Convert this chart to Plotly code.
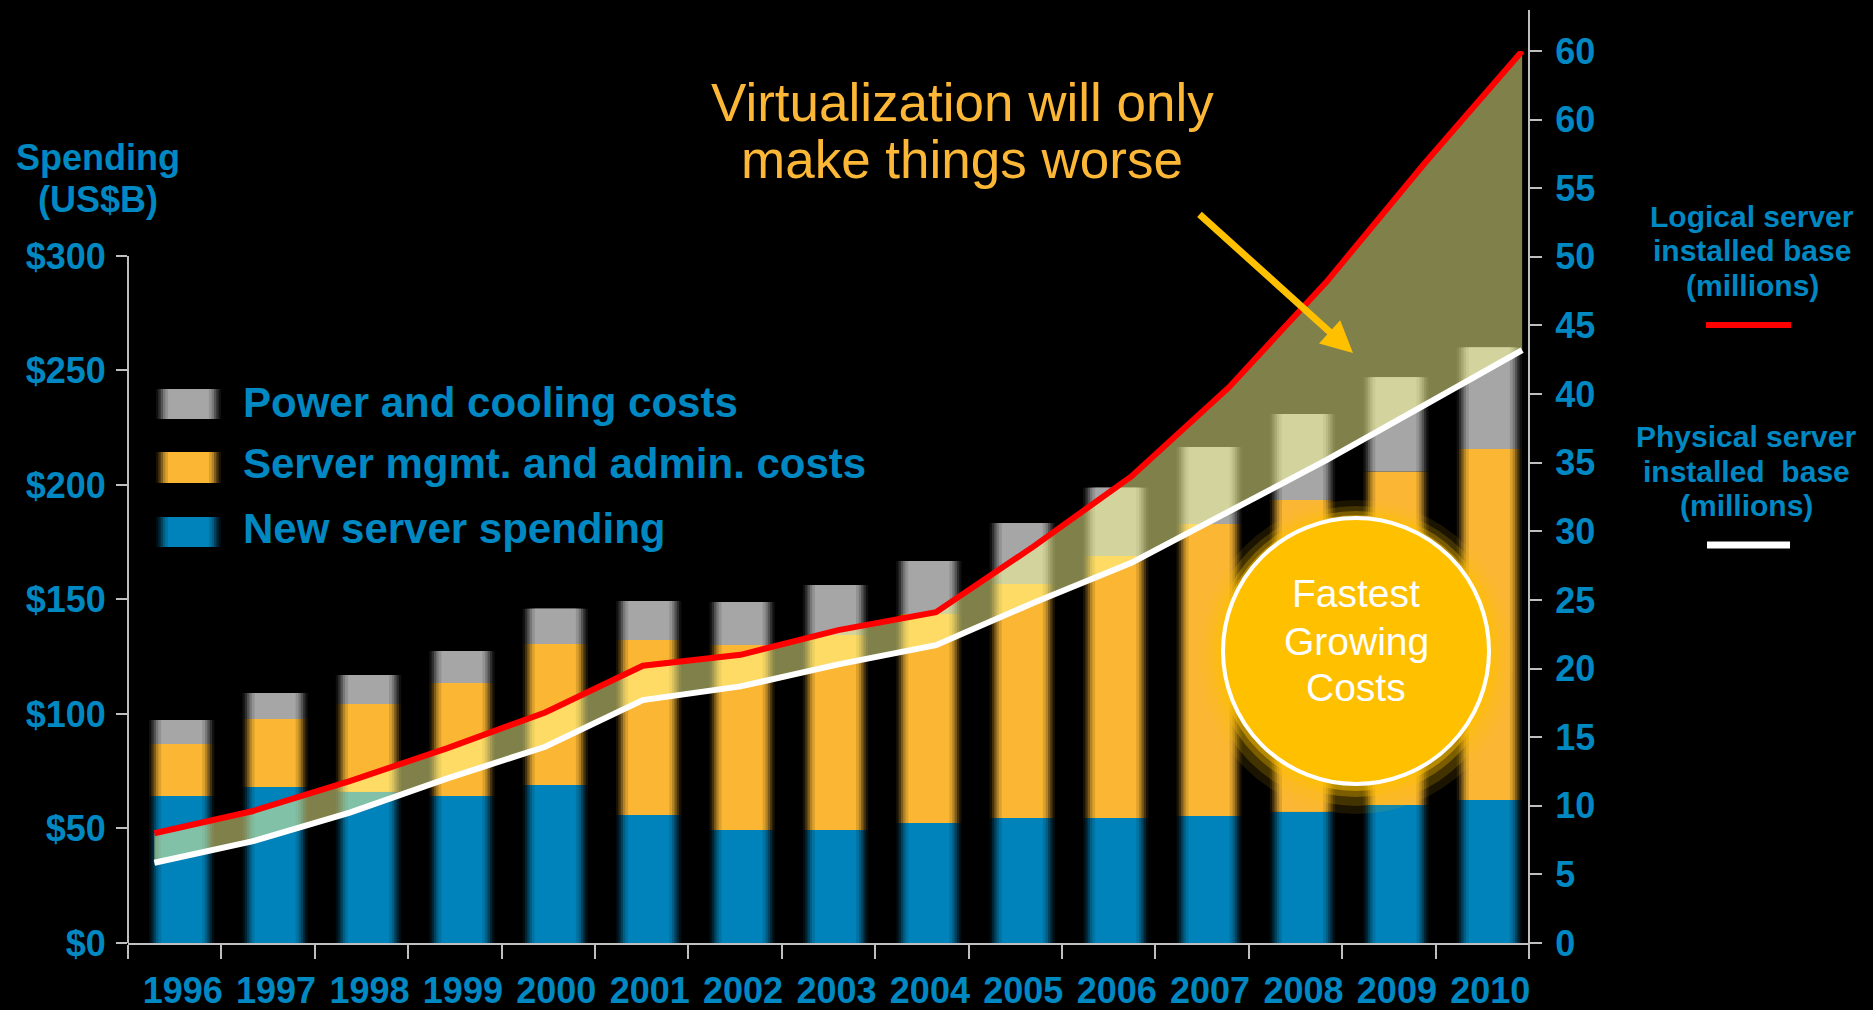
import plotly.graph_objects as go

# ---------------- data ----------------
years = [str(y) for y in range(1996, 2011)]
years_num = list(range(1996, 2011))
new_server = [64.2, 68.1, 66.0, 64.2, 69.0, 55.9, 49.3, 49.3, 52.4, 54.6, 54.6, 55.5, 57.3, 60.3, 62.4]
mgmt_admin = [22.7, 29.7, 38.4, 49.3, 61.6, 76.4, 80.8, 85.2, 91.3, 102.2, 114.4, 127.5, 136.1, 145.7, 153.3]
power_cooling = [10.5, 11.4, 12.6, 14.0, 15.3, 17.0, 18.8, 21.8, 23.1, 26.6, 29.8, 33.6, 37.6, 41.0, 44.3]
logical_base = [8.0, 9.6, 11.8, 14.2, 16.8, 20.2, 21.0, 22.8, 24.1, 28.9, 34.0, 40.5, 48.2, 56.8, 65.0]
physical_base = [5.85, 7.4, 9.5, 12.0, 14.3, 17.7, 18.7, 20.3, 21.7, 24.8, 27.7, 31.4, 35.2, 39.2, 43.2]
left_tickvals = [0, 50, 100, 150, 200, 250, 300]
left_ticktext = ["$0", "$50", "$100", "$150", "$200", "$250", "$300"]
right_tickvals = [0, 5, 10, 15, 20, 25, 30, 35, 40, 45, 50, 55, 60, 65]
right_ticktext = ["0", "5", "10", "15", "20", "25", "30", "35", "40", "45", "50", "55", "60", "60"]
legend_labels = ["Power and cooling costs", "Server mgmt. and admin. costs", "New server spending"]

# ---------------- style ----------------
BLUE_TXT = "#0088C2"
BLUE = (0, 131, 186)
ORANGE = (251, 183, 52)
GRAY = (166, 166, 166)
AXIS = "#BFBFBF"
FONT = "Liberation Sans, Arial, sans-serif"
W, H = 1873, 1010
PL, PR, PT, PB = 128, 1529, 51, 943  # plot area in pixels


def shade(rgb, f):
    return "rgb(%d,%d,%d)" % tuple(int(c * f) for c in rgb)


def fx(x):
    return (x - PL) / (PR - PL)


def fy(y):
    return (PB - y) / (PB - PT)


fig = go.Figure()

# stacked bars with a soft horizontal gradient (layered widths)
base_orange = new_server
base_gray = [a + b for a, b in zip(new_server, mgmt_admin)]
segments = [
    (new_server, [0] * len(years), BLUE),
    (mgmt_admin, base_orange, ORANGE),
    (power_cooling, base_gray, GRAY),
]
layers = [(0.70, 0.10), (0.65, 0.28), (0.60, 0.50), (0.55, 0.72), (0.50, 0.88), (0.44, 1.0)]
shift = 0.075
for vals, base, col in segments:
    for w, f in layers:
        fig.add_trace(go.Bar(
            x=years, y=vals, base=base, width=w, offset=-w / 2 + shift,
            marker=dict(color=shade(col, f), line=dict(width=0)),
            xaxis="x", yaxis="y", showlegend=False, hoverinfo="skip"))

# server installed base lines with band
fig.add_trace(go.Scatter(
    x=years_num, y=physical_base, mode="lines",
    line=dict(color="white", width=6), xaxis="x2", yaxis="y2",
    showlegend=False))
fig.add_trace(go.Scatter(
    x=years_num, y=logical_base, mode="lines",
    line=dict(color="#FF0000", width=6), fill="tonexty",
    fillcolor="rgba(255,255,150,0.5)", xaxis="x2", yaxis="y2",
    showlegend=False))

shapes = []
# left axis line (only up to $300)
shapes.append(dict(type="line", xref="paper", yref="y", x0=0, x1=0, y0=0, y1=300,
                   line=dict(color=AXIS, width=2), layer="above"))
# right axis line
shapes.append(dict(type="line", xref="paper", yref="paper", x0=1, x1=1,
                   y0=fy(957), y1=fy(10), line=dict(color=AXIS, width=2), layer="above"))
# x axis extension
shapes.append(dict(type="line", xref="paper", yref="paper", x0=1, x1=fx(1541),
                   y0=0, y1=0, line=dict(color=AXIS, width=2), layer="above"))

# legend swatches (gradient look)
sw_y = [(389, 419), (452, 483), (517, 547)]
sw_cols = [GRAY, ORANGE, BLUE]
for (y0, y1), col in zip(sw_y, sw_cols):
    cx, half = 188.5, 32.5
    for w, f in layers:
        hw = half * w / 0.70
        shapes.append(dict(type="rect", xref="paper", yref="paper",
                           x0=fx(cx - hw), x1=fx(cx + hw), y0=fy(y1), y1=fy(y0),
                           fillcolor=shade(col, f), line=dict(width=0), layer="above"))

# right legend line samples
shapes.append(dict(type="line", xref="paper", yref="paper", x0=fx(1706), x1=fx(1791),
                   y0=fy(325), y1=fy(325), line=dict(color="#FF0000", width=6)))
shapes.append(dict(type="line", xref="paper", yref="paper", x0=fx(1707), x1=fx(1790),
                   y0=fy(545), y1=fy(545), line=dict(color="white", width=7)))

# "Fastest Growing Costs" circle with glow
ccx, ccy, r = 1356, 651, 133
for extra, alpha, dy in [(24, 0.10, 6), (17, 0.18, 5), (10, 0.30, 3), (5, 0.45, 2)]:
    rr = r + extra
    shapes.append(dict(type="circle", xref="paper", yref="paper",
                       x0=fx(ccx - rr), x1=fx(ccx + rr), y0=fy(ccy + dy + rr), y1=fy(ccy + dy - rr),
                       fillcolor="rgba(255,192,0,%.2f)" % alpha, line=dict(width=0), layer="above"))
shapes.append(dict(type="circle", xref="paper", yref="paper",
                   x0=fx(ccx - r), x1=fx(ccx + r), y0=fy(ccy + r), y1=fy(ccy - r),
                   fillcolor="#FFC000", line=dict(color="white", width=4), layer="above"))

annotations = []


def text(t, x, y, size, color, bold=False, xanchor="center"):
    annotations.append(dict(
        text=("<b>%s</b>" % t) if bold else t, xref="paper", yref="paper",
        x=fx(x), y=fy(y), xanchor=xanchor, yanchor="middle", showarrow=False,
        font=dict(family=FONT, size=size, color=color)))


text("Virtualization will only", 962, 103, 53, "#FBB735")
text("make things worse", 962, 160, 53, "#FBB735")
text("Spending", 98, 158, 36, BLUE_TXT, bold=True)
text("(US$B)", 98, 199, 36, BLUE_TXT, bold=True)
for lab, yc in zip(legend_labels, [402, 464, 528]):
    text(lab, 241, yc, 42, BLUE_TXT, bold=True, xanchor="left")
text("Logical server", 1752, 217, 30, BLUE_TXT, bold=True)
text("installed base", 1752, 251, 30, BLUE_TXT, bold=True)
text("(millions)", 1752, 285, 30, BLUE_TXT, bold=True)
text("Physical server", 1746, 436, 30, BLUE_TXT, bold=True)
text("installed\u00a0\u00a0base", 1746, 471, 30, BLUE_TXT, bold=True)
text("(millions)", 1746, 505, 30, BLUE_TXT, bold=True)
text("Fastest", ccx, 594, 39, "white")
text("Growing", ccx, 641, 39, "white")
text("Costs", ccx, 687, 39, "white")

# arrow
annotations.append(dict(
    text="", xref="paper", yref="paper", x=fx(1353), y=fy(353),
    ax=1198 - 1353, ay=213 - 353, axref="pixel", ayref="pixel",
    showarrow=True, arrowhead=2, arrowsize=0.9, arrowwidth=7, arrowcolor="#FFC000"))

tickfont = dict(family=FONT, size=36, color=BLUE_TXT, weight="bold")

fig.update_layout(
    width=W, height=H,
    margin=dict(l=PL, r=W - PR, t=PT, b=H - PB, pad=0, autoexpand=False),
    paper_bgcolor="black", plot_bgcolor="black",
    barmode="overlay", showlegend=False,
    font=dict(family=FONT),
    xaxis=dict(type="category", categoryorder="array", categoryarray=years,
               range=[-0.5, 14.5], showline=True, linecolor=AXIS, linewidth=2,
               ticks="outside", ticklen=14, tickwidth=2, tickcolor=AXIS,
               tickson="boundaries", showgrid=False, zeroline=False, automargin=False,
               tickfont=tickfont, ticklabelshift=8, ticklabelstandoff=15),
    xaxis2=dict(overlaying="x", range=[1995.73, 2010.07], visible=False,
                anchor="y2", showgrid=False, zeroline=False),
    yaxis=dict(range=[0, 389.5], tickvals=left_tickvals, ticktext=left_ticktext,
               ticks="outside", ticklen=11, tickwidth=2, tickcolor=AXIS,
               showline=False, showgrid=False, zeroline=False, automargin=False,
               tickfont=tickfont, ticklabelstandoff=3),
    yaxis2=dict(overlaying="y", side="right", anchor="x", range=[0, 65],
                tickvals=right_tickvals, ticktext=right_ticktext,
                ticks="outside", ticklen=12, tickwidth=2, tickcolor=AXIS,
                showline=False, showgrid=False, zeroline=False, automargin=False,
                tickfont=tickfont, ticklabelstandoff=6),
    yaxis3=dict(overlaying="y", side="right", anchor="x", range=[0, 65],
                tickvals=right_tickvals, ticks="inside", ticklen=12, tickwidth=2,
                tickcolor=AXIS, showticklabels=False, showline=False, automargin=False,
                showgrid=False, zeroline=False),
    shapes=shapes, annotations=annotations,
)

fig.write_html("out.html", config={"displayModeBar": False},
               post_script="document.body.style.margin='0px';document.body.style.overflow='hidden';")
